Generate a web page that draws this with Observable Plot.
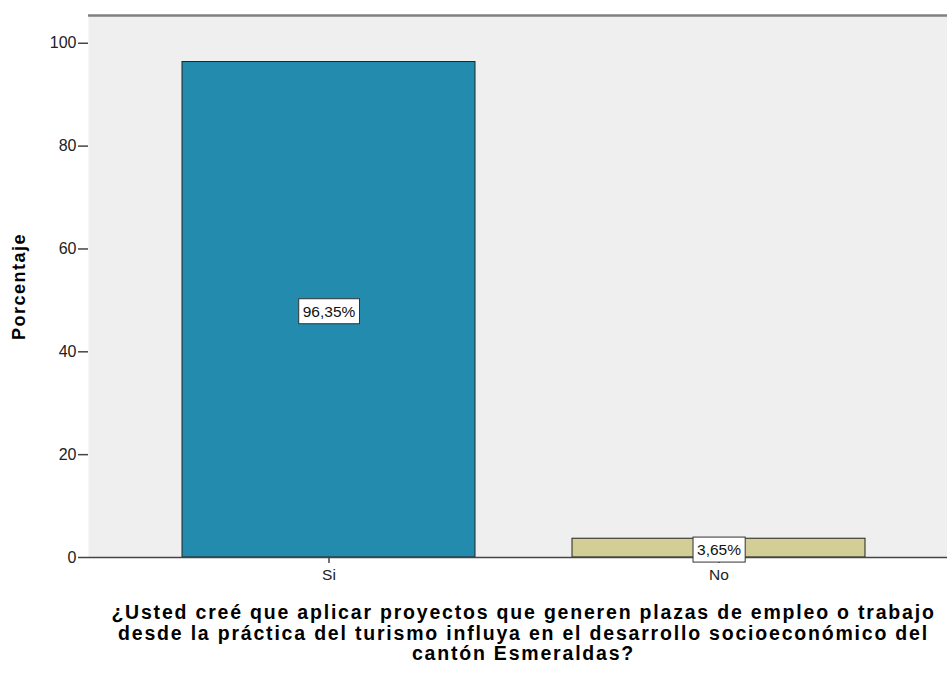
<!DOCTYPE html>
<html><head><meta charset="utf-8">
<script src="https://cdn.jsdelivr.net/npm/d3@7"></script>
<script src="https://cdn.jsdelivr.net/npm/@observablehq/plot@0.6"></script>
<style>
body{margin:0;background:#fff;font-family:"Liberation Sans",Arial,sans-serif;}
#title{width:947px;padding-left:100px;box-sizing:border-box;text-align:center;font-weight:bold;font-size:19.5px;letter-spacing:1.8px;line-height:20.5px;color:#000;margin-top:2px;}
</style></head>
<body>
<div id="chart"></div>
<div id="title">¿Usted creé que aplicar proyectos que generen plazas de empleo o trabajo<br>desde la práctica del turismo influya en el desarrollo socioeconómico del<br>cantón Esmeraldas?</div>
<script>
const categories = ["Si", "No"];
const percentages = [96.35, 3.65];
const labels = ["96,35%", "3,65%"];
const yTicks = [0, 20, 40, 60, 80, 100];
const colors = ["#238bae", "#d2ce96"];

const data = categories.map((c, i) => ({cat: c, pct: percentages[i], label: labels[i]}));
const yMax = 105.4;

const chart = Plot.plot({
  width: 947,
  height: 600,
  marginLeft: 88,
  marginRight: 0,
  marginTop: 15,
  marginBottom: 43,
  style: {fontFamily: '"Liberation Sans", Arial, sans-serif', fontSize: "16px", color: "#222", background: "#fff"},
  x: {domain: categories, paddingInner: 0.25, paddingOuter: 0.225, align: 0.53, label: null},
  y: {domain: [0, yMax], label: null},
  color: {domain: categories, range: colors},
  marks: [
    Plot.frame({fill: "#efefef", stroke: "none"}),
    Plot.barY(data, {x: "cat", y: "pct", fill: "cat", stroke: "#222", strokeWidth: 1}),
    Plot.ruleY([yMax], {stroke: "#808080", strokeWidth: 2.5}),
    Plot.ruleY([0], {stroke: "#444", strokeWidth: 1.5}),
    Plot.axisY({ticks: yTicks, tickSize: 10, tickPadding: 2, fontSize: 16, stroke: "#444", strokeWidth: 1.5, label: "Porcentaje", labelAnchor: "center", labelArrow: "none", labelOffset: 76}),
    Plot.axisX({tickSize: 6, tickPadding: 5, fontSize: 15.5, stroke: "#444", strokeWidth: 1.5, label: null}),
    Plot.text(data, {x: "cat", y: d => d.pct / 2, text: "label", fontSize: 15.5, fill: "#111", dy: 2, className: "vlabel"})
  ]
});
document.getElementById("chart").appendChild(chart);

const svg = d3.select(chart);
// left border
const fr = svg.select('[aria-label="frame"] rect');
if (!fr.empty()) {
  const x = +fr.attr("x"), y = +fr.attr("y"), h = +fr.attr("height");
  svg.append("line").attr("x1", x).attr("x2", x).attr("y1", y - 1).attr("y2", y + h).attr("stroke", "#444").attr("stroke-width", 2);
}
// y label styling
svg.selectAll('[aria-label="y-axis label"] text').attr("font-weight", "bold").attr("font-size", 18).attr("letter-spacing", "1.5px").attr("fill", "#000");
// label boxes
svg.selectAll(".vlabel text").each(function() {
  const b = this.getBBox();
  const r = d3.select(this.parentNode).insert("rect", () => this)
    .attr("x", b.x - 4).attr("y", b.y - 4).attr("width", b.width + 8).attr("height", b.height + 8)
    .attr("fill", "#fff").attr("stroke", "#333").attr("stroke-width", 1);
  const t = this.getAttribute("transform");
  if (t) r.attr("transform", t);
});
</script>
</body></html>
